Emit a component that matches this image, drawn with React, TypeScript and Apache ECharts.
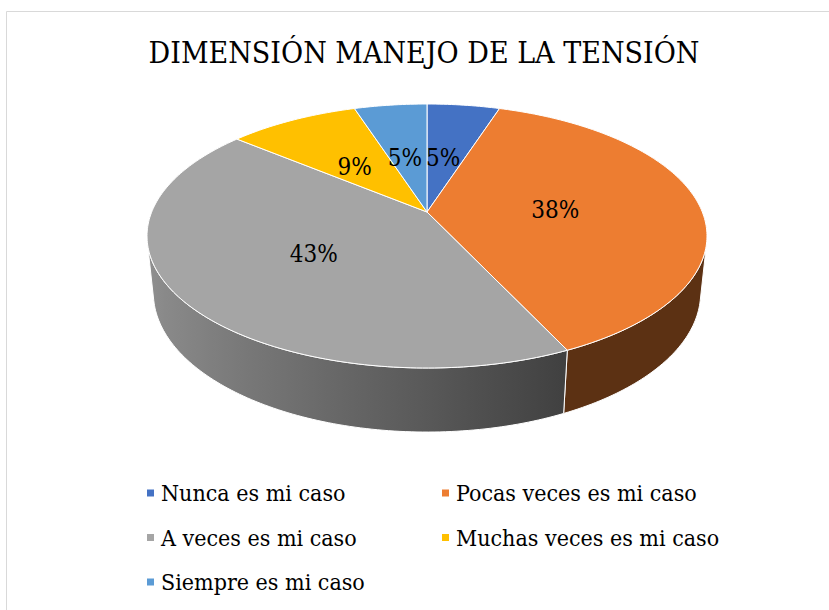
import React, { useEffect, useRef } from "react";
import * as echarts from "echarts";

const titleText = "DIMENSIÓN MANEJO DE LA TENSIÓN";
const categories = [
  "Nunca es mi caso",
  "Pocas veces es mi caso",
  "A veces es mi caso",
  "Muchas veces es mi caso",
  "Siempre es mi caso",
];
const values = [5, 38, 43, 9, 5];
const colors = ["#4472C4", "#ED7D31", "#A5A5A5", "#FFC000", "#5B9BD5"];
const legendLeftColumn = [categories[0], categories[2], categories[4]];
const legendRightColumn = [categories[1], categories[3]];

// 3D view (perspective) parameters
const CX = 427;
const CY = 212;
const F = 1341.6;
const L = 4.873;
const SA = 0.4636;
const CA = 0.886;
const H = 0.235;
const LABEL_R = 0.48;
const FONT = "DejaVu Serif Condensed, DejaVu Serif";

const total = values.reduce((a, b) => a + b, 0);
const DEG = Math.PI / 180;
const TH0 = Math.acos(-1 / (L * CA)) / DEG;

function proj(X: number, Y: number, Z: number): [number, number] {
  const u = Y * CA + Z * SA;
  const w = L + Z * CA - Y * SA;
  return [CX + (F * X) / w, CY - (F * u) / w];
}

function arc(a0: number, a1: number, Y: number, r = 1): [number, number][] {
  const n = Math.max(2, Math.ceil(a1 - a0));
  const pts: [number, number][] = [];
  for (let k = 0; k <= n; k++) {
    const t = (a0 + ((a1 - a0) * k) / n) * DEG;
    pts.push(proj(r * Math.sin(t), Y, r * Math.cos(t)));
  }
  return pts;
}

function shade(thetaDeg: number): number {
  const X = Math.sin(thetaDeg * DEG);
  if (X >= 0.426) return 0.39;
  return 0.39 + (0.426 - X) * (0.48 / 1.396);
}

function scaleColor(hex: string, f: number): string {
  const r = parseInt(hex.slice(1, 3), 16);
  const g = parseInt(hex.slice(3, 5), 16);
  const b = parseInt(hex.slice(5, 7), 16);
  const c = (v: number) => Math.max(0, Math.min(255, Math.round(v * f)));
  return `rgb(${c(r)},${c(g)},${c(b)})`;
}

function makeRenderItem(i: number) {
  return (_params: any, api: any) => {
    const before = values.slice(0, i).reduce((a, b) => a + b, 0);
    const v = api.value(0);
    const a0 = (before / total) * 360;
    const a1 = a0 + (v / total) * 360;
    const children: any[] = [];

    const vs = Math.max(a0, TH0);
    const ve = Math.min(a1, 360 - TH0);
    if (ve > vs) {
      const topRim = arc(vs, ve, 0);
      const botRim = arc(vs, ve, -H);
      const pts = [...topRim, ...botRim.slice().reverse()];
      const xs = pts.map((p) => p[0]);
      const minX = Math.min(...xs);
      const maxX = Math.max(...xs);
      const stops: { offset: number; color: string }[] = [];
      const n = 12;
      for (let k = 0; k <= n; k++) {
        const th = vs + ((ve - vs) * k) / n;
        const px = proj(Math.sin(th * DEG), 0, Math.cos(th * DEG))[0];
        const off = maxX > minX ? (px - minX) / (maxX - minX) : 0;
        stops.push({ offset: Math.max(0, Math.min(1, off)), color: scaleColor(colors[i], shade(th)) });
      }
      stops.sort((p, q) => p.offset - q.offset);
      children.push({
        type: "polygon",
        shape: { points: pts },
        style: {
          fill: new echarts.graphic.LinearGradient(0, 0, 1, 0, stops),
          stroke: "#ffffff",
          lineWidth: 1,
        },
      });
    }

    const top = [proj(0, 0, 0), ...arc(a0, a1, 0)];
    children.push({
      type: "polygon",
      shape: { points: top },
      style: { fill: colors[i], stroke: "#ffffff", lineWidth: 1 },
    });

    const mid = ((a0 + a1) / 2) * DEG;
    const lp = proj(LABEL_R * Math.sin(mid), 0, LABEL_R * Math.cos(mid));
    children.push({
      type: "text",
      x: lp[0] - 3,
      y: lp[1] + 2,
      z2: 100,
      style: {
        text: Math.round((v / total) * 100) + "%",
        fontFamily: FONT,
        fontSize: 24,
        fill: "#000000",
        align: "center",
        verticalAlign: "middle",
      },
    });
    return { type: "group", children };
  };
}

const legendBase = {
  orient: "vertical",
  icon: "rect",
  itemWidth: 7,
  itemHeight: 7,
  itemGap: 14.5,
  selectedMode: false,
  textStyle: {
    fontFamily: FONT,
    fontSize: 23,
    lineHeight: 30,
    color: "#000000",
    padding: [0, 0, 0, 2],
  },
};

export default function App() {
  const ref = useRef<HTMLDivElement>(null);
  useEffect(() => {
    if (!ref.current) return;
    const chart = echarts.init(ref.current, undefined, { renderer: "svg" });
    chart.setOption({
      animation: false,
      backgroundColor: "#ffffff",
      color: colors,
      title: {
        text: titleText,
        left: 424,
        top: 37,
        padding: 0,
        textAlign: "center",
        textStyle: { fontFamily: FONT, fontSize: 30, fontWeight: "normal", color: "#000000" },
      },
      legend: [
        { ...legendBase, left: 142, top: 473, data: legendLeftColumn },
        { ...legendBase, left: 437, top: 473, data: legendRightColumn },
      ],
      graphic: [
        {
          type: "rect",
          shape: { x: 6.5, y: 11.5, width: 900, height: 700 },
          style: { fill: "none", stroke: "#d9d9d9", lineWidth: 1 },
          silent: true,
        },
      ],
      series: categories.map((name, i) => ({
        type: "custom",
        name,
        coordinateSystem: "none",
        itemStyle: { color: colors[i] },
        renderItem: makeRenderItem(i),
        data: [[values[i]]],
      })),
    });
    return () => chart.dispose();
  }, []);
  return (
    <div
      ref={ref}
      style={{ position: "absolute", left: 0, top: 0, width: 829, height: 610 }}
    />
  );
}
